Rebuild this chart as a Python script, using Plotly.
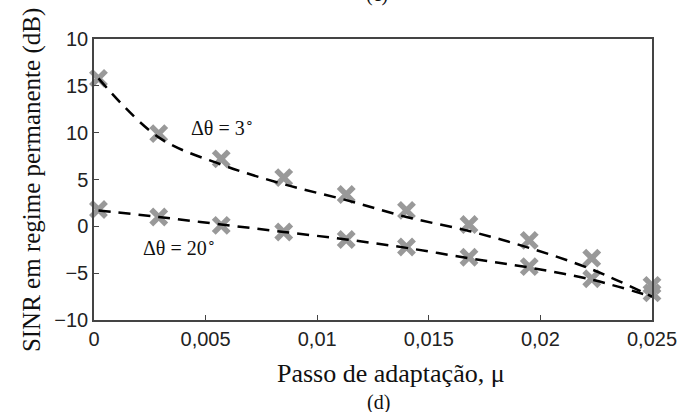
import plotly.graph_objects as go

# Data
mu = [0.0002, 0.0029, 0.0057, 0.0085, 0.0113, 0.0140, 0.0168, 0.0195, 0.0223, 0.0250]
sinr_3deg = [15.8, 9.9, 7.2, 5.2, 3.4, 1.7, 0.2, -1.5, -3.4, -6.3]
sinr_20deg = [1.8, 1.0, 0.1, -0.6, -1.4, -2.2, -3.3, -4.3, -5.6, -7.1]

mu_fit = [0.0002, 0.0029, 0.0057, 0.0085, 0.0113, 0.0140, 0.0168, 0.0195, 0.0223, 0.0250]
fit_3deg = [15.8, 9.5, 6.6, 4.5, 2.8, 1.0, -0.5, -2.3, -4.6, -7.5]
fit_20deg = [1.7, 1.0, 0.2, -0.6, -1.4, -2.3, -3.4, -4.4, -5.7, -7.5]

x_tickvals = [0, 0.005, 0.01, 0.015, 0.02, 0.025]
x_ticktext = ["0", "0,005", "0,01", "0,015", "0,02", "0,025"]
y_tickvals = [-10, -5, 0, 5, 10, 15, 20]
y_ticktext = ["\u221210", "\u22125", "0", "5", "10", "15", "10"]

SANS = "Liberation Sans, Arial, sans-serif"
SERIF = "Liberation Serif, Times New Roman, serif"
GREY = "#999999"

fig = go.Figure()

marker_style = dict(symbol="x-thin", size=15, color=GREY, line=dict(color=GREY, width=5.5))
for ys in (sinr_3deg, sinr_20deg):
    fig.add_trace(go.Scatter(x=mu, y=ys, mode="markers", marker=marker_style,
                             showlegend=False, cliponaxis=False, hoverinfo="skip"))

for ys in (fit_3deg, fit_20deg):
    fig.add_trace(go.Scatter(x=mu_fit, y=ys, mode="lines",
                             line=dict(color="black", width=2.5, dash="12px,8px", shape="spline", smoothing=1.0),
                             showlegend=False, cliponaxis=False, hoverinfo="skip"))

W, H = 698, 412
L, R, T, B = 94, 46, 39, 92

fig.update_layout(
    width=W, height=H,
    margin=dict(l=L, r=R, t=T, b=B, pad=0),
    paper_bgcolor="white", plot_bgcolor="white",
    font=dict(family=SANS, size=20, color="#222"),
    xaxis=dict(range=[0, 0.025], tickvals=x_tickvals, ticktext=x_ticktext,
               showgrid=False, zeroline=False, showline=True, linecolor="#444", linewidth=1.5,
               mirror=True, ticks="inside", ticklen=5, tickcolor="#444", tickwidth=1.2,
               tickfont=dict(family=SANS, size=20, color="#222")),
    yaxis=dict(range=[-10, 20], tickvals=y_tickvals, ticktext=y_ticktext,
               showgrid=False, zeroline=False, showline=True, linecolor="#444", linewidth=1.5,
               mirror=True, ticks="inside", ticklen=5, tickcolor="#444", tickwidth=1.2,
               tickfont=dict(family=SANS, size=20, color="#222")),
)

def ann(text, x, y, size, angle=0, xanchor="center", yanchor="middle"):
    fig.add_annotation(text=text, x=x, y=y, xref="paper", yref="paper",
                       showarrow=False, textangle=angle, xanchor=xanchor, yanchor=yanchor,
                       font=dict(family=SERIF, size=size, color="#111"))

ann("\u0394\u03b8 = 3<sup>\u2218</sup>", 0.231, 0.687, 20)
ann("\u0394\u03b8 = 20<sup>\u2218</sup>", 0.154, 0.26, 20)
ann("Passo de adaptação, \u03bc", 0.532, -0.189, 26)
ann("(d)", 0.509, -0.292, 20)
ann("(c)", 0.507, 1.16, 20)
ann("SINR em regime permanente (dB)", -0.111, 0.498, 25, angle=-90)

fig.write_html("out.html")
